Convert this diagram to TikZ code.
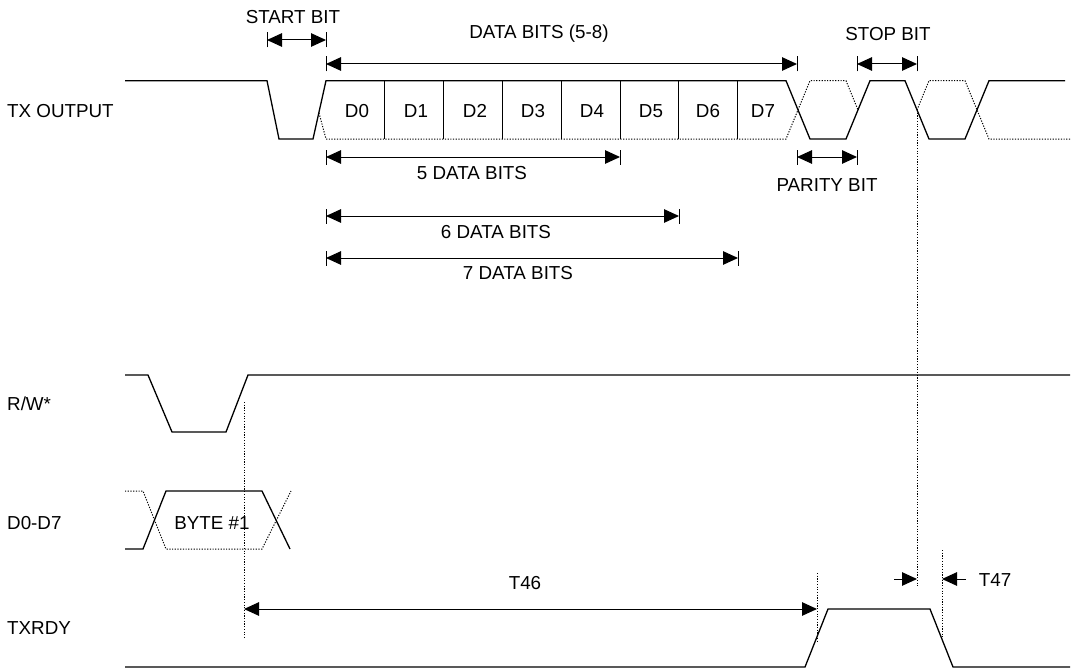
\documentclass[tikz,border=0pt]{standalone}
\usepackage{fontspec}
\setmainfont{Liberation Sans}
\usetikzlibrary{arrows.meta}
\newcommand\tickat[1]{\draw[tickmark] ([yshift=-7.5pt]#1) -- ([yshift=7.5pt]#1);}
\begin{document}
\begin{tikzpicture}[x=1pt,y=-1pt,
  sig/.style={line width=1.3pt, line join=miter},
  alt/.style={line width=1pt, dash pattern=on 1.2pt off 1.5pt},
  guide/.style={line width=0.9pt, dash pattern=on 1.2pt off 1.5pt},
  tip/.tip={Triangle[length=15pt,width=13.5pt]},
  dim/.style={line width=1pt, tip-tip},
  dimr/.style={line width=1pt, -tip},
  tickmark/.style={line width=1pt},
  lbl/.style={inner sep=0pt, font=\fontsize{18.8}{21}\selectfont},
  lbll/.style={lbl, anchor=west}]
\useasboundingbox (0,0) rectangle (1077,669);

% ---------- labels ----------
\node[lbll] (ltx) at (7,111) {TX OUTPUT};
\node[lbll] (lrw) at (7,404) {R/W*};
\node[lbll] (ldd) at (7,523) {D0-D7};
\node[lbll] (lrdy) at (7,628) {TXRDY};

\node[lbl] (tstart) at (293,17) {START BIT};
\node[lbl] (tdata) at (539,34) {DATA BITS (5-8)};
\node[lbl] (tstop) at (888,34) {STOP BIT};
\node[lbl] (tpar) at (827,185) {PARITY BIT};
\node[lbl] (t5) at (472,173) {5 DATA BITS};
\node[lbl] (t6) at (496,232) {6 DATA BITS};
\node[lbl] (t7) at (518,273) {7 DATA BITS};
\node[lbl] (tbyte) at (212,523) {BYTE \#1};
\node[lbl] (tt46) at (525,583) {T46};
\node[lbl] (tt47) at (995,580) {T47};

\foreach \k/\xx in {0/357,1/416,2/475,3/533,4/592,5/651,6/708,7/763}
  \node[lbl, anchor=base] (bit\k) at (\xx,117.5) {D\k};

% ---------- TX OUTPUT ----------
\draw[sig] (125,80.7) -- (267,80.7) -- (279,139) -- (313,139) -- (326,80.7)
  -- (786,80.7) -- (810,139) -- (846,139) -- (870,80.7) -- (905,80.7)
  -- (929,139) -- (965,139) -- (989,80.7) -- (1065,80.7);
\draw[alt] (319,113) -- (326,139) -- (786,139) -- (810,80.7) -- (846,80.7) -- (858,110);
\draw[alt] (917,110) -- (929,80.7) -- (965,80.7) -- (989,139) -- (1070,139);
\foreach \xx in {384.8,443.6,502.4,561.2,620,678.8,737.6}
  \draw[line width=0.9pt] (\xx,80.7) -- (\xx,139);

% ---------- R/W* ----------
\draw[sig] (125,375) -- (148,375) -- (172,432) -- (226,432) -- (248,375) -- (1070,375);

% ---------- D0-D7 ----------
\draw[sig] (125,549) -- (143,549) -- (166,491) -- (262,491) -- (290,549);
\draw[alt] (125,491) -- (143,491) -- (166,549) -- (262,549) -- (291,491);

% ---------- TXRDY ----------
\draw[sig] (125,667) -- (805,667) -- (828,609) -- (930,609) -- (953,667) -- (1070,667);

% ---------- guide lines ----------
\coordinate (g1t) at (244,402); \coordinate (g1b) at (244,639);
\coordinate (g2t) at (817,573); \coordinate (g2b) at (817,643);
\coordinate (g3t) at (917,110); \coordinate (g3b) at (917,586);
\coordinate (g4t) at (942,550); \coordinate (g4b) at (942,637);
\draw[guide] (g1t) -- (g1b);
\draw[guide] (g2t) -- (g2b);
\draw[guide] (g3t) -- (g3b);
\draw[guide] (g4t) -- (g4b);

% ---------- dimension arrows ----------
\coordinate (sbL) at (267,40);  \coordinate (sbR) at (326,40);
\coordinate (dbL) at (326,64);  \coordinate (dbR) at (797,64);
\coordinate (stL) at (857,64);  \coordinate (stR) at (917,64);
\coordinate (pbL) at (797,157); \coordinate (pbR) at (857,157);
\coordinate (d5L) at (326,157); \coordinate (d5R) at (620,157);
\coordinate (d6L) at (326,216); \coordinate (d6R) at (679,216);
\coordinate (d7L) at (326,258); \coordinate (d7R) at (738,258);
\coordinate (t46L) at (244,609); \coordinate (t46R) at (817,609);
\coordinate (t47a) at (894,579); \coordinate (t47b) at (917,579);
\coordinate (t47c) at (966,579); \coordinate (t47d) at (942,579);

\foreach \a/\b in {sbL/sbR,dbL/dbR,stL/stR,pbL/pbR,d5L/d5R,d6L/d6R,d7L/d7R}{
  \draw[dim] (\a) -- (\b);
  \tickat{\a}
  \tickat{\b}
}
\draw[dim] (t46L) -- (t46R);
\draw[dimr] (t47a) -- (t47b);
\draw[dimr] (t47c) -- (t47d);
\end{tikzpicture}
\end{document}
